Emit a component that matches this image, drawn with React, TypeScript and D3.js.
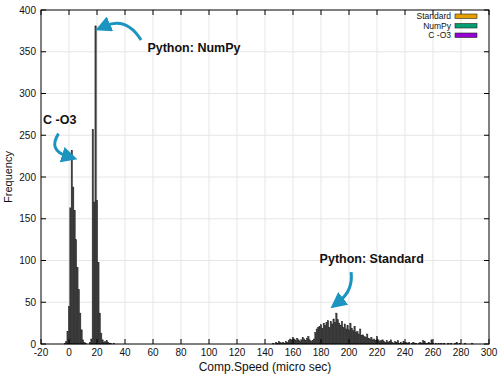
import React from "react";
import * as d3 from "d3";

// ---- data ----
const xTicks = [-20, 0, 20, 40, 60, 80, 100, 120, 140, 160, 180, 200, 220, 240, 260, 280, 300];
const yTicks = [0, 50, 100, 150, 200, 250, 300, 350, 400];

const cO3Start = -3;
const cO3Counts = [1, 3, 15, 45, 163, 232, 188, 160, 125, 92, 65, 37, 17, 5, 2, 1];

const numpyStart = 15;
const numpyCounts = [2, 6, 257, 170, 381, 172, 98, 37, 13, 5, 2, 3, 4, 2, 1, 1, 0, 1];

const standardStart = 145;
const standardCounts = [
  0, 1, 0, 2, 1, 3, 2, 1, 2, 1, 3, 2, 4, 6, 5, 8, 6, 4, 7, 5,
  3, 5, 8, 6, 4, 7, 9, 5, 3, 4, 6, 14, 18, 20, 21, 23, 19, 25, 22, 26,
  28, 20, 27, 24, 30, 26, 37, 29, 25, 22, 27, 20, 24, 18, 22, 17, 25, 19, 16, 21,
  14, 15, 12, 18, 10, 11, 9, 8, 12, 7, 6, 8, 5, 6, 4, 9, 5, 3, 4, 5,
  3, 2, 4, 2, 3, 5, 2, 1, 3, 2, 4, 1, 2, 1, 3, 1, 2, 1, 2, 0,
  1, 2, 1, 1, 0, 1, 2, 1, 4, 3, 1, 1, 2, 1, 5, 1, 0, 1, 0, 1,
  0, 1, 0, 1, 0, 0, 1, 0, 1, 0, 0, 1, 2, 0, 1, 0, 0, 0, 1, 0,
  0, 0, 0, 1,
];

const legendNames = ["Standard", "NumPy", "C -O3"];
const legendColors = ["#e69f00", "#009e73", "#9400d3"];

// annotations in data coordinates: [x0,y0, cx,cy, x1,y1]
const annotations = [
  { text: "Python: NumPy", tx: 56, ty: 350, path: [51.5, 364, 41, 392, 26, 381] },
  { text: "C -O3", tx: -18.5, ty: 263, path: [-7.5, 252, -15, 232, -1.5, 225] },
  { text: "Python: Standard", tx: 179, ty: 97, path: [201.5, 86, 203, 64, 193, 51] },
];

const W = 500;
const H = 375;
const left = 41, right = 489, top = 10, bottom = 344;

export default function App() {
  const x = d3.scaleLinear().domain([-20, 300]).range([left, right]);
  const y = d3.scaleLinear().domain([0, 400]).range([bottom, top]);

  const series = [
    { start: cO3Start, counts: cO3Counts },
    { start: numpyStart, counts: numpyCounts },
    { start: standardStart, counts: standardCounts },
  ];

  const bars: { v: number; c: number }[] = [];
  series.forEach((s) => s.counts.forEach((c, i) => bars.push({ v: s.start + i, c })));

  const font = "'Liberation Sans', Arial, Helvetica, sans-serif";
  const arrowColor = "#1b95c0";

  return (
    <svg width={W} height={H} style={{ position: "absolute", left: 0, top: 0, background: "#fff" }} fontFamily={font}>
      <defs>
        <marker id="ah" markerUnits="userSpaceOnUse" markerWidth="16" markerHeight="16" viewBox="0 0 16 16" refX="5" refY="8" orient="auto">
          <path d="M0,0 L16,8 L0,16 Z" fill={arrowColor} />
        </marker>
      </defs>
      {/* grid */}
      {xTicks.slice(1, -1).map((t) => (
        <line key={"gx" + t} x1={x(t)} x2={x(t)} y1={top} y2={bottom} stroke="#e6e6e6" strokeWidth={1} />
      ))}
      {yTicks.slice(1, -1).map((t) => (
        <line key={"gy" + t} x1={left} x2={right} y1={y(t)} y2={y(t)} stroke="#e6e6e6" strokeWidth={1} />
      ))}
      {/* bars */}
      {bars.filter((b) => b.c > 0).map((b, i) => (
        <rect
          key={i}
          x={x(b.v - 0.5)}
          width={x(b.v + 0.5) - x(b.v - 0.5)}
          y={y(b.c)}
          height={y(0) - y(b.c)}
          fill="#3c3c3c"
          stroke="#1e1e1e"
          strokeWidth={0.4}
        />
      ))}
      {/* ticks */}
      {xTicks.map((t) => (
        <g key={"tx" + t}>
          <line x1={x(t)} x2={x(t)} y1={bottom} y2={bottom - 5} stroke="#000" />
          <line x1={x(t)} x2={x(t)} y1={top} y2={top + 5} stroke="#000" />
          <text x={x(t)} y={bottom + 12} fontSize={10} textAnchor="middle" fill="#111">{t}</text>
        </g>
      ))}
      {yTicks.map((t) => (
        <g key={"ty" + t}>
          <line x1={left} x2={left + 5} y1={y(t)} y2={y(t)} stroke="#000" />
          <line x1={right} x2={right - 5} y1={y(t)} y2={y(t)} stroke="#000" />
          <text x={left - 5} y={y(t) + 3.5} fontSize={10} textAnchor="end" fill="#111">{t}</text>
        </g>
      ))}
      <rect x={left} y={top} width={right - left} height={bottom - top} fill="none" stroke="#000" strokeWidth={1} />
      {/* axis titles */}
      <text x={(left + right) / 2} y={371} fontSize={12} textAnchor="middle" fill="#111">Comp.Speed (micro sec)</text>
      <text transform={`translate(12,${(top + bottom) / 2}) rotate(-90)`} fontSize={11} textAnchor="middle" fill="#111">Frequency</text>
      {/* legend */}
      {legendNames.map((n, i) => (
        <g key={n}>
          <text x={451} y={19 + i * 9.5} fontSize={8.5} textAnchor="end" fill="#111">{n}</text>
          <rect x={455} y={14 + i * 9.5} width={22} height={4.5} fill={legendColors[i]} stroke="#222" strokeWidth={0.6} />
        </g>
      ))}
      {/* annotations */}
      {annotations.map((a) => {
        const [x0, y0, cx, cy, x1, y1] = a.path;
        const d = `M${x(x0)},${y(y0)} Q${x(cx)},${y(cy)} ${x(x1)},${y(y1)}`;
        return (
          <g key={a.text}>
            <path d={d} fill="none" stroke={arrowColor} strokeWidth={3} markerEnd="url(#ah)" />
            <text x={x(a.tx)} y={y(a.ty)} fontSize={12.5} fontWeight="bold" fill="#111">{a.text}</text>
          </g>
        );
      })}
    </svg>
  );
}
